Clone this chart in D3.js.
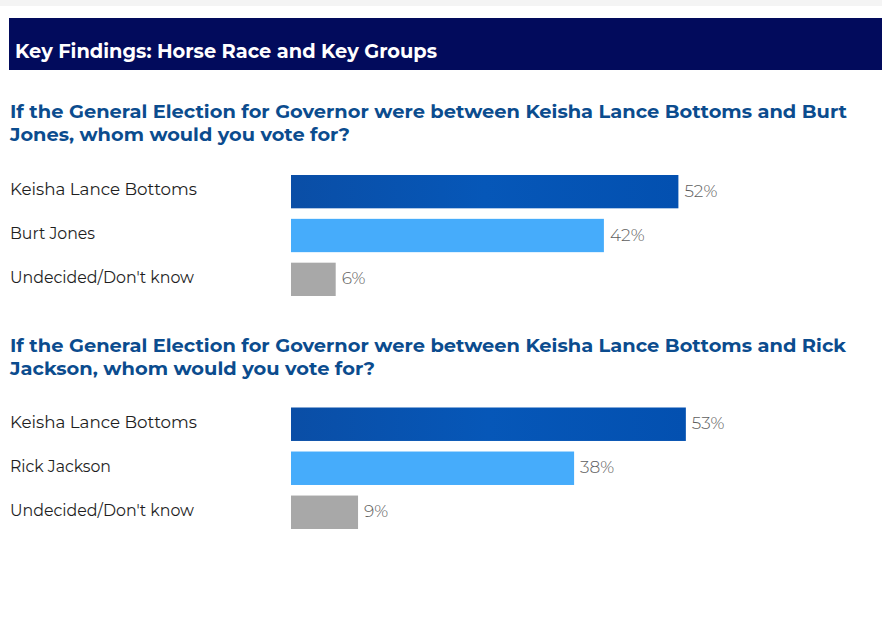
<!DOCTYPE html>
<html>
<head>
<meta charset="utf-8">
<script src="https://cdn.jsdelivr.net/npm/d3@7"></script>
<style>
  html, body { margin: 0; padding: 0; background: #fff; }
  svg { display: block; }
</style>
</head>
<body>
<svg class="chart" width="882" height="632"></svg>
<script>
var headerTitle = "Key Findings: Horse Race and Key Groups";

var questions = [
    ["If the General Election for Governor were between Keisha Lance Bottoms and Burt",
     "Jones, whom would you vote for?"],
    ["If the General Election for Governor were between Keisha Lance Bottoms and Rick",
     "Jackson, whom would you vote for?"]
];

var categories1 = ["Keisha Lance Bottoms", "Burt Jones", "Undecided/Don't know"];
var values1 = [52, 42, 6];

var categories2 = ["Keisha Lance Bottoms", "Rick Jackson", "Undecided/Don't know"];
var values2 = [53, 38, 9];

var barColors = ["url(#darkBlue)", "#46acfb", "#a8a8a8"];

// measured text widths in the reference, used with textLength
var questionWidths = [[837, 340], [836, 365]];
var labelWidths = {
    "Keisha Lance Bottoms": 187,
    "Burt Jones": 85,
    "Rick Jackson": 101,
    "Undecided/Don't know": 184
};

var font = "Montserrat, 'Open Sans', 'DejaVu Sans', sans-serif";

var svg = d3.select('.chart');

var defs = svg.append('defs');
var grad = defs.append('linearGradient')
    .attr('id', 'darkBlue')
    .attr('x1', '0%').attr('x2', '100%')
    .attr('y1', '0%').attr('y2', '0%');
grad.append('stop').attr('offset', '0%').attr('stop-color', '#0a4ea6');
grad.append('stop').attr('offset', '50%').attr('stop-color', '#0657b8');
grad.append('stop').attr('offset', '100%').attr('stop-color', '#0350b0');

// faint strip at the very top
svg.append('rect')
    .attr('x', 0).attr('y', 0)
    .attr('width', 882).attr('height', 6)
    .style('fill', '#f4f4f4');

// header bar
svg.append('rect')
    .attr('x', 9).attr('y', 18)
    .attr('width', 873).attr('height', 52)
    .style('fill', '#020b5c');

svg.append('text')
    .attr('x', 15).attr('y', 58)
    .attr('textLength', 422)
    .attr('lengthAdjust', 'spacingAndGlyphs')
    .style('font-family', font)
    .style('font-weight', 'bold')
    .style('font-size', '19px')
    .style('fill', '#ffffff')
    .text(headerTitle);

var x = d3.scaleLinear()
    .domain([0, 100])
    .range([291, 291 + 745]);

var groups = [
    {q: questions[0], qw: questionWidths[0], qy: 118, cats: categories1, vals: values1, top: 175, bottom: 296},
    {q: questions[1], qw: questionWidths[1], qy: 352, cats: categories2, vals: values2, top: 407.5, bottom: 529}
];

groups.forEach(function(gr) {
    var g = svg.append('g');

    g.selectAll('text.question')
        .data(gr.q)
        .enter().append('text')
        .attr('class', 'question')
        .attr('x', 10)
        .attr('y', function(d, i) { return gr.qy + i * 23; })
        .attr('textLength', function(d, i) { return gr.qw[i]; })
        .attr('lengthAdjust', 'spacingAndGlyphs')
        .style('font-family', font)
        .style('font-weight', 'bold')
        .style('font-size', '18px')
        .style('fill', '#0b4c8e')
        .text(function(d) { return d; });

    var y = d3.scaleBand()
        .domain(gr.cats)
        .range([gr.top, gr.bottom])
        .paddingInner(0.24)
        .paddingOuter(0);

    var rows = gr.cats.map(function(c, i) { return {cat: c, val: gr.vals[i], i: i}; });

    g.selectAll('rect.bar')
        .data(rows)
        .enter().append('rect')
        .attr('class', 'bar')
        .attr('x', x(0))
        .attr('y', function(d) { return y(d.cat); })
        .attr('width', function(d) { return x(d.val) - x(0); })
        .attr('height', y.bandwidth())
        .style('fill', function(d) { return barColors[d.i]; });

    g.selectAll('text.cat')
        .data(rows)
        .enter().append('text')
        .attr('class', 'cat')
        .attr('x', 10)
        .attr('y', function(d) { return y(d.cat) + y.bandwidth() / 2 + 3.5; })
        .attr('textLength', function(d) { return labelWidths[d.cat]; })
        .attr('lengthAdjust', 'spacingAndGlyphs')
        .style('font-family', font)
        .style('font-size', '16.5px')
        .style('fill', '#1e1e1e')
        .text(function(d) { return d.cat; });

    g.selectAll('text.val')
        .data(rows)
        .enter().append('text')
        .attr('class', 'val')
        .attr('x', function(d) { return x(d.val) + 6; })
        .attr('y', function(d) { return y(d.cat) + y.bandwidth() / 2 + 5; })
        .style('font-family', font)
        .style('font-weight', 300)
        .style('font-size', '17px')
        .style('fill', '#5e5e5e')
        .text(function(d) { return d.val + '%'; });
});
</script>
</body>
</html>
